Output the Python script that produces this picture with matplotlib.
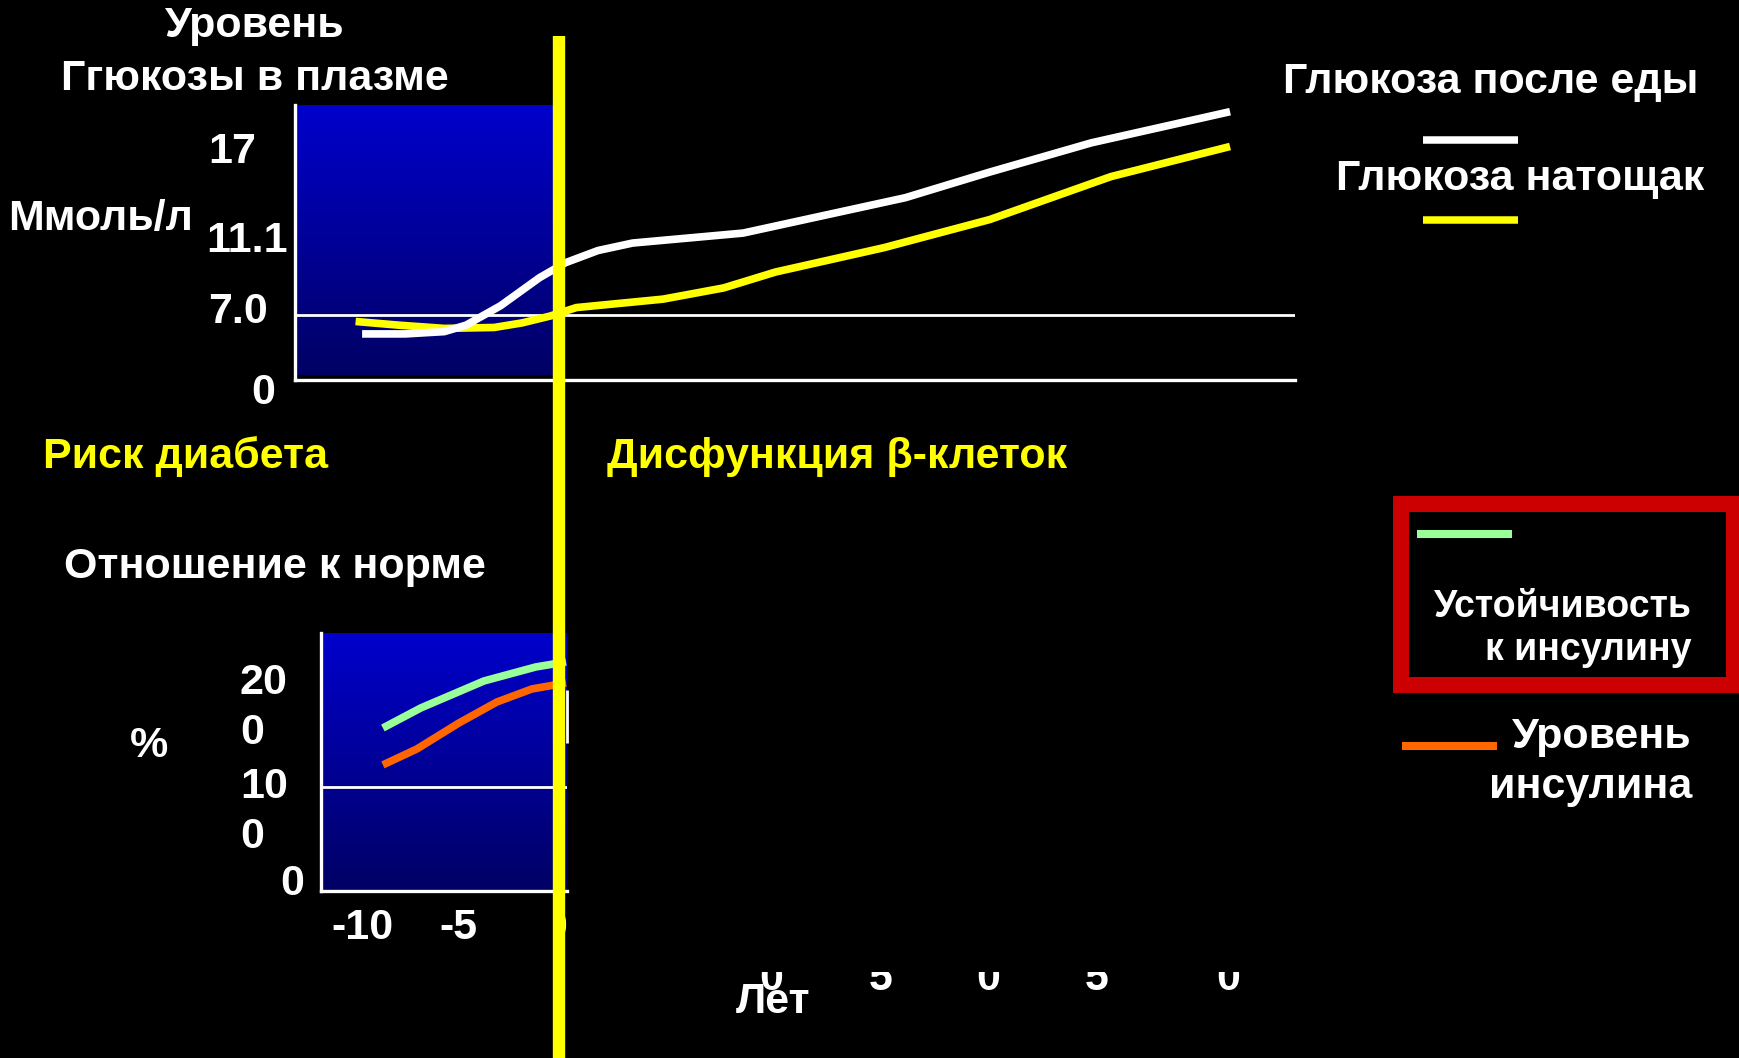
import numpy as np
import matplotlib
matplotlib.use("Agg")
import matplotlib.pyplot as plt
from matplotlib.colors import LinearSegmentedColormap
from matplotlib.lines import Line2D
from matplotlib.patches import Rectangle
from matplotlib.transforms import blended_transform_factory, ScaledTranslation

plt.rcParams['font.family'] = ['Liberation Sans', 'DejaVu Sans']
plt.rcParams['font.weight'] = 'bold'

# ---------------- data ----------------
# Plasma glucose (mmol/L) by years relative to diagnosis
postprandial_years = [-9.0, -7.0, -5.2, -4.2, -2.6, -0.8, 0.4, 1.9, 3.5, 8.6, 16.1, 20.0, 24.7, 31.1]
postprandial_glucose = [4.95, 4.95, 5.2, 5.9, 7.5, 9.0, 9.8, 10.45, 10.85, 11.45, 13.8, 15.5, 17.45, 19.55]
fasting_years = [-9.3, -7.3, -5.2, -2.9, -1.6, -0.3, 0.9, 4.9, 7.7, 10.1, 15.1, 20.0, 25.6, 31.1]
fasting_glucose = [6.3, 5.9, 5.55, 5.65, 6.15, 6.9, 7.4, 7.85, 8.45, 9.3, 10.6, 12.35, 15.2, 17.2]
glucose_threshold = 7.0
glucose_ticks = [17, 11.1, 7.0, 0]
glucose_tick_labels = ['17', '11.1', '7.0', '0']

# Percent of normal in the years before diagnosis
resistance_years = [-8.94, -6.97, -3.70, -1.01, 0.55]
insulin_resistance = [156.7, 176.0, 201.9, 215.4, 220.2]
insulin_years = [-8.94, -7.18, -5.0, -3.03, -1.22, 0.55]
insulin_level = [121.2, 136.5, 161.5, 181.7, 194.2, 200.0]
pct_normal = 100
pct_ticks = [200, 100, 0]
pct_tick_labels = ['20\n0', '10\n0', '0']
early_year_ticks = [-10, -5, 0]
early_year_labels = ['-10', '-5', '0']
late_year_digits = ['0', '5', '0', '5', '0']

# ---------------- layout helpers (pixel space) ----------------
W, H = 1740, 1058
WHITE = 'white'
YELLOW = '#FFFF00'
GREEN = '#99FF99'
ORANGE = '#FF6600'
RED = '#CC0000'
FS = 31

fig = plt.figure(figsize=(W / 100, H / 100), dpi=100, facecolor='black')


def axes_rect(left, top, right, bottom):
    return [left / W, 1 - bottom / H, (right - left) / W, (bottom - top) / H]


def put(px, py, s, **kw):
    kw.setdefault('color', WHITE)
    kw.setdefault('fontsize', FS)
    kw.setdefault('va', 'baseline')
    return fig.text(px / W, 1 - py / H, s, **kw)


def fig_line(x0, x1, y, color, lw):
    fig.add_artist(Line2D([x0 / W, x1 / W], [1 - y / H, 1 - y / H],
                          transform=fig.transFigure, color=color, lw=lw,
                          solid_capstyle='butt'))


slide_blue = LinearSegmentedColormap.from_list('slide_blue', ['#000064', '#0000CC'])
gradient = np.linspace(1, 0, 256)[:, None]

# ---------------- glucose panel ----------------
top_rect = axes_rect(295, 105, 1295, 379.5)
x_top = (-12.1, 34.1)

bg_top = fig.add_axes(top_rect)
bg_top.imshow(gradient, cmap=slide_blue, extent=(x_top[0], 0, 0.017, 1),
              aspect='auto', interpolation='bilinear')
bg_top.set_xlim(*x_top)
bg_top.set_ylim(0, 1)
bg_top.axis('off')


def glu_forward(v):
    return np.interp(v, [0, 7.0, 11.1, 17, 20], [0, 58, 127, 207, 247])


def glu_inverse(p):
    return np.interp(p, [0, 58, 127, 207, 247], [0, 7.0, 11.1, 17, 20])


ax1 = fig.add_axes(top_rect)
ax1.patch.set_visible(False)
ax1.set_yscale('function', functions=(glu_forward, glu_inverse))
ax1.set_xlim(*x_top)
ax1.set_ylim(0, 20)
ax1.axhline(glucose_threshold, color=WHITE, lw=2, zorder=2)
ax1.plot(fasting_years, fasting_glucose, color=YELLOW, lw=5.5,
         solid_capstyle='butt', zorder=3)
ax1.plot(postprandial_years, postprandial_glucose, color=WHITE, lw=5.5,
         solid_capstyle='butt', zorder=4)
for side in ('top', 'right'):
    ax1.spines[side].set_visible(False)
for side in ('left', 'bottom'):
    ax1.spines[side].set_color(WHITE)
    ax1.spines[side].set_linewidth(2.4)
ax1.set_xticks([])
ax1.set_yticks([])

glu_label_right = [256, 288, 268, 275]
glu_label_shift = [17.5, 17.5, 23.5, 7.0]
ytr1 = blended_transform_factory(ax1.transAxes, ax1.transData)
for v, s, rx, dy in zip(glucose_ticks, glucose_tick_labels, glu_label_right, glu_label_shift):
    ax1.text((rx - 295) / 1000, v, s, color=WHITE, fontsize=FS, ha='right', va='top',
             transform=ytr1 + ScaledTranslation(0, dy / 100, fig.dpi_scale_trans))

# ---------------- percent-of-normal panel ----------------
bot_rect = axes_rect(321.5, 633, 567, 891)
x_bot = (-12.12, 0.6)
ax2 = fig.add_axes(bot_rect)
ax2.imshow(gradient, cmap=slide_blue, extent=(x_bot[0], x_bot[1], 0, 248),
           aspect='auto', interpolation='bilinear', zorder=0)
ax2.set_xlim(*x_bot)
ax2.set_ylim(0, 248)
ax2.set_facecolor('none')
ax2.axhline(pct_normal, color=WHITE, lw=2, zorder=2)
ax2.plot(resistance_years, insulin_resistance, color=GREEN, lw=5.5,
         solid_capstyle='butt', zorder=3)
ax2.plot(insulin_years, insulin_level, color=ORANGE, lw=5.5,
         solid_capstyle='butt', zorder=3)
ax2.vlines(x_bot[1], 142, 193, color=WHITE, lw=2, clip_on=False, zorder=3)
for side in ('top', 'right'):
    ax2.spines[side].set_visible(False)
for side in ('left', 'bottom'):
    ax2.spines[side].set_color(WHITE)
    ax2.spines[side].set_linewidth(2.4)
ax2.set_yticks([])
ax2.set_xticks(early_year_ticks, early_year_labels)
ax2.tick_params(axis='x', length=0, pad=12, labelsize=FS, labelcolor=WHITE)
zero_lbl = ax2.get_xticklabels()[-1]
zero_lbl.set_clip_on(True)
zero_lbl.set_clip_path(Rectangle((553 / W, 0), 1, 1, transform=fig.transFigure))

ytr2 = blended_transform_factory(ax2.transAxes, ax2.transData)
for v, s in zip(pct_ticks, pct_tick_labels):
    if '\n' in s:
        ax2.text((240 - 321.5) / 245.5, v, s, color=WHITE, fontsize=FS, ha='left',
                 va='top', linespacing=1.3,
                 transform=ytr2 + ScaledTranslation(0, 0.195, fig.dpi_scale_trans))
    else:
        ax2.text((304 - 321.5) / 245.5, v, s, color=WHITE, fontsize=FS, ha='right',
                 va='top',
                 transform=ytr2 + ScaledTranslation(0, 0.27, fig.dpi_scale_trans))

# ---------------- titles and annotations ----------------
put(254.5, 36.7, 'Уровень', ha='center')
put(254.5, 90, 'Ггюкозы в плазме', ha='center')
put(101, 230, 'Ммоль/л', ha='center')
put(43, 468, 'Риск диабета', color=YELLOW)
put(607, 468, 'Дисфункция β-клеток', color=YELLOW)
put(64, 578, 'Отношение к норме')
put(149, 757, '%', ha='center')

# year labels under the glucose panel, partly hidden
digit_clip = Rectangle((0, 0), 1, 1 - 972 / H, transform=fig.transFigure)
for px, s in zip([771, 881, 988, 1097, 1228], late_year_digits):
    t = put(px, 990, s, ha='center')
    t.set_clip_on(True)
    t.set_clip_path(digit_clip)
put(773, 1013, 'Лет', ha='center')

# legend: glucose
put(1283, 93, 'Глюкоза после еды')
fig_line(1423, 1518, 139.5, WHITE, 5.4)
put(1336, 190, 'Глюкоза натощак')
fig_line(1423, 1518, 219.5, YELLOW, 5.4)

# legend: insulin
fig.add_artist(Rectangle((1401 / W, 1 - 685 / H), (1734 - 1401) / W, (685 - 504) / H,
                         transform=fig.transFigure, fill=False, edgecolor=RED,
                         lw=11.5, joinstyle='miter'))
fig_line(1417, 1512, 534, GREEN, 5.8)
put(1692, 617, 'Устойчивость', ha='right', fontsize=27)
put(1692, 660, 'к инсулину', ha='right', fontsize=27)
fig_line(1402, 1497, 746, ORANGE, 5.8)
put(1692, 748, 'Уровень', ha='right')
put(1692, 798, 'инсулина', ha='right')

# year-zero divider across both panels
fig.add_artist(Line2D([558.8 / W, 558.8 / W], [1 - 36 / H, 0], transform=fig.transFigure,
                      color=YELLOW, lw=8.9, solid_capstyle='butt', zorder=20))

fig.savefig('out.png', dpi=100, facecolor='black')
